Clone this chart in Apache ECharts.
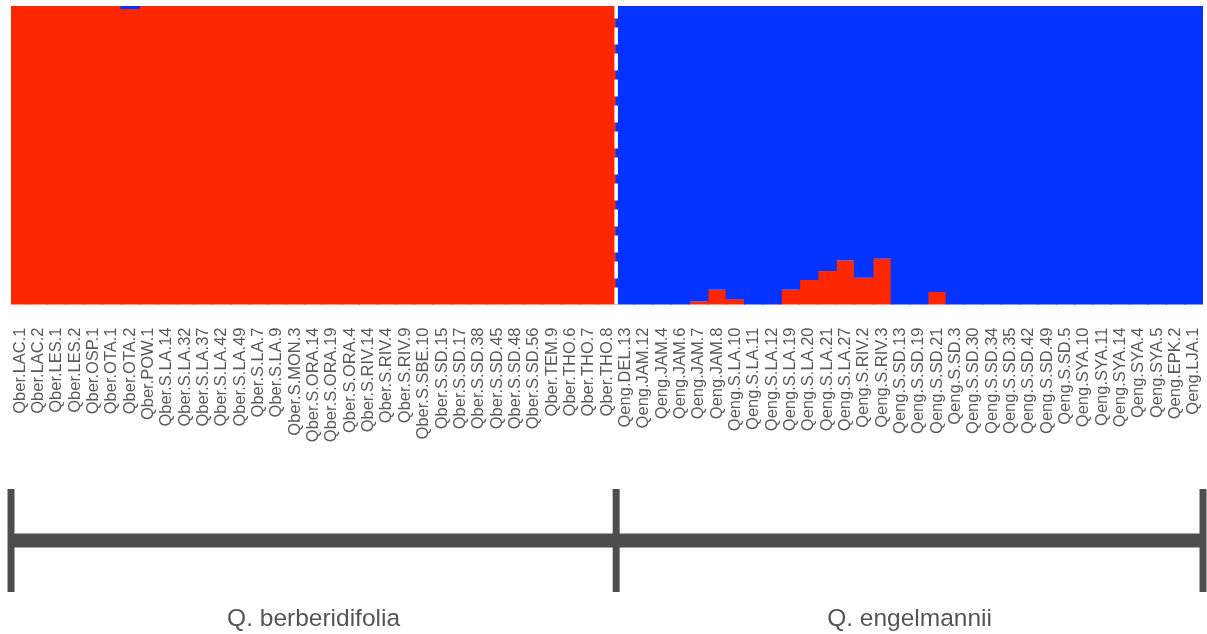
<!DOCTYPE html>
<html>
<head>
<meta charset="utf-8">
<title>Ancestry proportions, Q. berberidifolia vs Q. engelmannii</title>
<script src="https://cdn.jsdelivr.net/npm/echarts@6/dist/echarts.min.js"></script>
<style>
  html, body { margin: 0; padding: 0; background: #ffffff; }
  #chart { width: 1207px; height: 634px; }
</style>
</head>
<body>
<div id="chart"></div>
<script>
// Individuals, in plotting order
const berIndividuals = [
  'Qber.LAC.1', 'Qber.LAC.2', 'Qber.LES.1', 'Qber.LES.2', 'Qber.OSP.1', 'Qber.OTA.1',
  'Qber.OTA.2', 'Qber.POW.1', 'Qber.S.LA.14', 'Qber.S.LA.32', 'Qber.S.LA.37', 'Qber.S.LA.42',
  'Qber.S.LA.49', 'Qber.S.LA.7', 'Qber.S.LA.9', 'Qber.S.MON.3', 'Qber.S.ORA.14', 'Qber.S.ORA.19',
  'Qber.S.ORA.4', 'Qber.S.RIV.14', 'Qber.S.RIV.4', 'Qber.S.RIV.9', 'Qber.S.SBE.10', 'Qber.S.SD.15',
  'Qber.S.SD.17', 'Qber.S.SD.38', 'Qber.S.SD.45', 'Qber.S.SD.48', 'Qber.S.SD.56', 'Qber.TEM.9',
  'Qber.THO.6', 'Qber.THO.7', 'Qber.THO.8'
];
const engIndividuals = [
  'Qeng.DEL.13', 'Qeng.JAM.12', 'Qeng.JAM.4', 'Qeng.JAM.6', 'Qeng.JAM.7', 'Qeng.JAM.8',
  'Qeng.S.LA.10', 'Qeng.S.LA.11', 'Qeng.S.LA.12', 'Qeng.S.LA.19', 'Qeng.S.LA.20', 'Qeng.S.LA.21',
  'Qeng.S.LA.27', 'Qeng.S.RIV.2', 'Qeng.S.RIV.3', 'Qeng.S.SD.13', 'Qeng.S.SD.19', 'Qeng.S.SD.21',
  'Qeng.S.SD.3', 'Qeng.S.SD.30', 'Qeng.S.SD.34', 'Qeng.S.SD.35', 'Qeng.S.SD.42', 'Qeng.S.SD.49',
  'Qeng.S.SD.5', 'Qeng.SYA.10', 'Qeng.SYA.11', 'Qeng.SYA.14', 'Qeng.SYA.4', 'Qeng.SYA.5',
  'Qeng.EPK.2', 'Qeng.LJA.1'
];

// Membership in cluster 1 (red) and cluster 2 (blue), per individual
const cluster1Ber = [
  1, 1, 1, 1, 1, 1, 0.99, 1, 1, 1, 1, 1, 1, 1, 1, 1, 1,
  1, 1, 1, 1, 1, 1, 1, 1, 1, 1, 1, 1, 1, 1, 1, 1
];
const cluster2Ber = [
  0, 0, 0, 0, 0, 0, 0.01, 0, 0, 0, 0, 0, 0, 0, 0, 0, 0,
  0, 0, 0, 0, 0, 0, 0, 0, 0, 0, 0, 0, 0, 0, 0, 0
];
const cluster1Eng = [
  0, 0, 0, 0, 0.01, 0.049, 0.018, 0, 0, 0.049, 0.082, 0.112, 0.147, 0.09, 0.153, 0,
  0, 0.042, 0, 0, 0, 0, 0, 0, 0, 0, 0, 0, 0, 0, 0, 0
];
const cluster2Eng = [
  1, 1, 1, 1, 0.99, 0.951, 0.982, 1, 1, 0.951, 0.918, 0.888, 0.853, 0.91, 0.847, 1,
  1, 0.958, 1, 1, 1, 1, 1, 1, 1, 1, 1, 1, 1, 1, 1, 1
];

// Species groups
const groupNames = ['Q. berberidifolia', 'Q. engelmannii'];

const individuals = berIndividuals.concat(engIndividuals);
const cluster1 = cluster1Ber.concat(cluster1Eng);
const cluster2 = cluster2Ber.concat(cluster2Eng);
const total = individuals.length;
const split = berIndividuals.length;
const groupBounds = [0, split, total];
const groupSpans = groupNames.map((name, i) => [groupBounds[i], groupBounds[i + 1], name]);

const RED = '#FF2600';
const BLUE = '#0433FF';
const INK = '#4d4d4d';

const chart = echarts.init(document.getElementById('chart'), null, { renderer: 'canvas' });

chart.setOption({
  animation: false,
  backgroundColor: '#ffffff',
  grid: [
    { left: 11, right: 4, top: 6, height: 298.5 },
    { left: 11, right: 4, top: 489, height: 103 }
  ],
  xAxis: [
    {
      type: 'category',
      gridIndex: 0,
      data: individuals,
      boundaryGap: true,
      axisLine: { show: false },
      axisTick: { show: false },
      splitLine: { show: false },
      axisLabel: {
        interval: 0,
        rotate: 90,
        margin: 23,
        fontFamily: 'Liberation Sans, Arial, sans-serif',
        fontSize: 16.5,
        color: '#5a5a5a'
      }
    },
    {
      // continuous index scale over the same strip, used for the species divider
      type: 'value',
      gridIndex: 0,
      min: 0,
      max: total,
      show: false
    },
    {
      type: 'value',
      gridIndex: 1,
      min: 0,
      max: total,
      show: false
    }
  ],
  yAxis: [
    { type: 'value', gridIndex: 0, min: 0, max: 1, show: false },
    { type: 'value', gridIndex: 1, min: 0, max: 1, show: false }
  ],
  series: [
    {
      name: 'Cluster 1',
      type: 'bar',
      xAxisIndex: 0,
      yAxisIndex: 0,
      stack: 'q',
      data: cluster1,
      // slightly wider than the band so neighbouring bars overlap and leave no seams
      barWidth: '106%',
      itemStyle: { color: RED },
      silent: true
    },
    {
      name: 'Cluster 2',
      type: 'bar',
      xAxisIndex: 0,
      yAxisIndex: 0,
      stack: 'q',
      data: cluster2,
      barWidth: '106%',
      itemStyle: { color: BLUE },
      silent: true
    },
    {
      // white dashed divider between the two species
      type: 'line',
      xAxisIndex: 1,
      yAxisIndex: 0,
      data: [[split, 0], [split, 1]],
      showSymbol: false,
      symbol: 'none',
      silent: true,
      z: 5,
      lineStyle: { color: '#ffffff', width: 3.5, type: [17, 9] }
    },
    {
      // end ticks of the species bracket
      type: 'custom',
      xAxisIndex: 2,
      yAxisIndex: 1,
      data: groupBounds,
      silent: true,
      renderItem: function (params, api) {
        const top = api.coord([api.value(0), 1]);
        const bottom = api.coord([api.value(0), 0]);
        return {
          type: 'line',
          shape: { x1: top[0], y1: top[1], x2: bottom[0], y2: bottom[1] },
          style: { stroke: INK, lineWidth: 7 }
        };
      }
    },
    {
      // bracket bar and species name for each group
      type: 'custom',
      xAxisIndex: 2,
      yAxisIndex: 1,
      data: groupSpans,
      silent: true,
      renderItem: function (params, api) {
        const a = api.coord([api.value(0), 0.5]);
        const b = api.coord([api.value(1), 0.5]);
        const mid = api.coord([(api.value(0) + api.value(1)) / 2, 0]);
        return {
          type: 'group',
          children: [
            {
              type: 'line',
              shape: { x1: a[0], y1: a[1], x2: b[0], y2: b[1] },
              style: { stroke: INK, lineWidth: 14 }
            },
            {
              type: 'text',
              x: mid[0],
              y: mid[1] + 27,
              style: {
                text: groupSpans[params.dataIndex][2],
                fill: '#555555',
                font: '24.5px "Liberation Sans", Arial, sans-serif',
                textAlign: 'center',
                textVerticalAlign: 'middle'
              }
            }
          ]
        };
      }
    }
  ]
});
</script>
</body>
</html>
